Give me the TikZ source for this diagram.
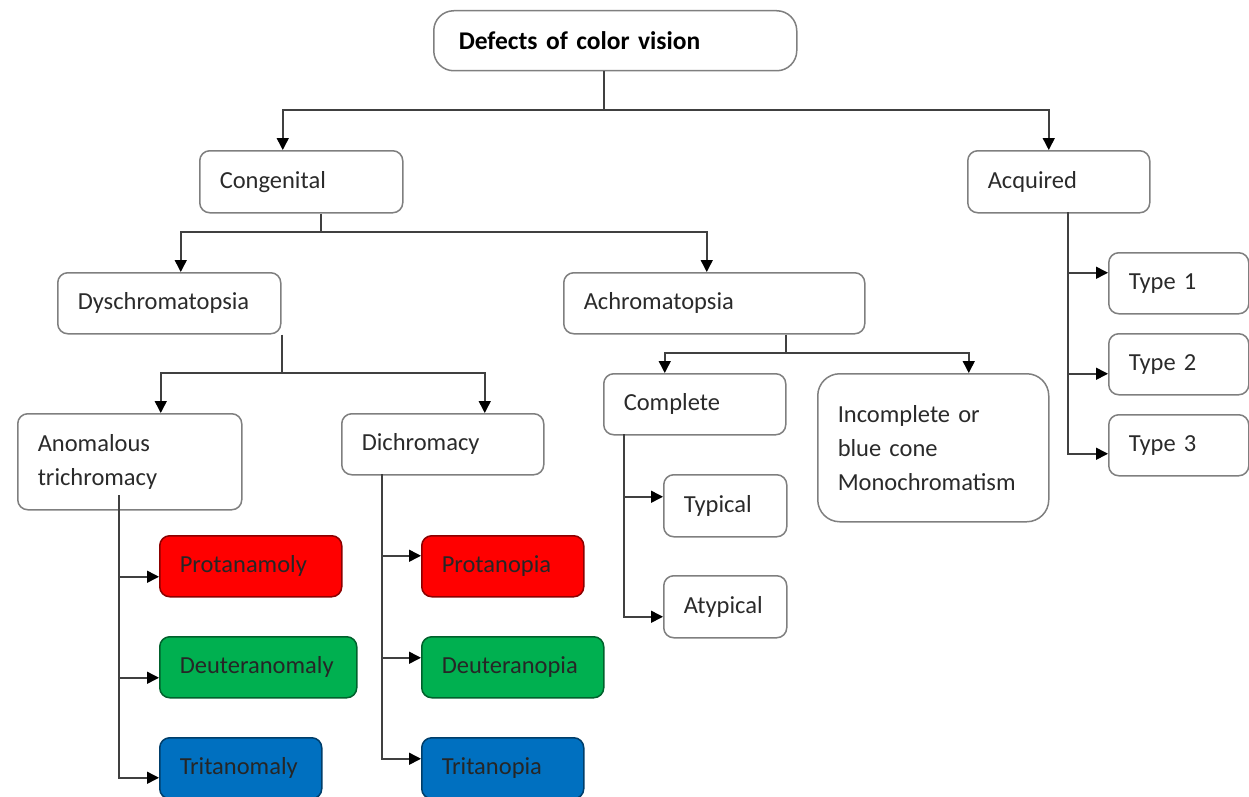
\documentclass[tikz,border=0pt]{standalone}
\usepackage{fontspec}
\setmainfont{Carlito}
\usetikzlibrary{arrows.meta}
\definecolor{boxgray}{HTML}{7F7F7F}
\definecolor{linegray}{HTML}{404040}
\definecolor{txtgray}{HTML}{2A2A2A}
\definecolor{cbred}{HTML}{FF0000}
\definecolor{cbgreen}{HTML}{00B050}
\definecolor{cbblue}{HTML}{0070C0}
\tikzstyle{block} = [rectangle, draw=boxgray, line width=1.5pt, rounded corners=10pt,
    anchor=north west, align=left, inner xsep=20pt, inner ysep=4pt,
    minimum height=61pt, text=txtgray, font=\fontsize{24.5}{34}\selectfont]
\tikzstyle{redblock} = [block, fill=cbred, draw=cbred!55!black, text=black!85]
\tikzstyle{greenblock} = [block, fill=cbgreen, draw=cbgreen!55!black, text=black!85]
\tikzstyle{blueblock} = [block, fill=cbblue, draw=cbblue!55!black, text=black!85]
\tikzstyle{stem} = [draw=linegray, line width=1.5pt]
\tikzstyle{line} = [draw=linegray, line width=1.5pt, -{Triangle[length=12pt,width=12pt,color=black]}]

\begin{document}
\begin{tikzpicture}[x=1pt, y=-1pt]
    \useasboundingbox (0,0) rectangle (1249,797);
    % Place nodes
    \node [block, text width=313pt, inner xsep=25pt, minimum height=60pt, rounded corners=20pt, text=black, font=\fontsize{25.5}{30}\selectfont\bfseries] (root) at (433,10) {Defects of color vision};
    \node [block, text width=163pt, minimum height=62pt] (cong) at (199,150) {Congenital};
    \node [block, text width=142pt, minimum height=62pt] (acq) at (967,150) {Acquired};
    \node [block, text width=183pt] (dys) at (57,272) {Dyschromatopsia};
    \node [block, text width=261pt] (achro) at (563,272) {Achromatopsia};
    \node [block, text width=184pt, minimum height=96pt] (anom) at (17,413) {Anomalous\\trichromacy};
    \node [block, text width=162pt] (dich) at (341,413) {Dichromacy};
    \node [redblock, text width=142pt] (protm) at (159,535) {Protanamoly};
    \node [greenblock, text width=157pt] (deutm) at (159,636) {Deuteranomaly};
    \node [blueblock, text width=122pt] (tritm) at (159,737) {Tritanomaly};
    \node [redblock, text width=122pt] (protp) at (421,535) {Protanopia};
    \node [greenblock, text width=142pt] (deutp) at (421,636) {Deuteranopia};
    \node [blueblock, text width=122pt] (tritp) at (421,737) {Tritanopia};
    \node [block, text width=142pt] (comp) at (603,373) {Complete};
    \node [block, text width=191pt, minimum height=148pt, rounded corners=22pt] (incomp) at (817,373) {Incomplete or\\blue cone\\Monochromatism};
    \node [block, text width=83pt, minimum height=62pt] (typ) at (663,474) {Typical};
    \node [block, text width=83pt, minimum height=62pt] (atyp) at (663,575) {Atypical};
    \node [block, text width=100pt] (type1) at (1108,252) {Type 1};
    \node [block, text width=100pt] (type2) at (1108,333) {Type 2};
    \node [block, text width=100pt] (type3) at (1108,414) {Type 3};

    % Junctions
    \coordinate (rootj) at (604,110);
    \coordinate (congj) at (321,232);
    \coordinate (dysj) at (282,373);
    \coordinate (achroj) at (786,353);
    \coordinate (anomt) at (119,495);
    \coordinate (dicht) at (382,474);
    \coordinate (compt) at (624,434);
    \coordinate (acqt) at (1068,212);

    \path [stem] (root.south -| rootj) -- (rootj);
    \path [line] (rootj) -| ([xshift=-18.5pt]cong.north);
    \path [line] (rootj) -| ([xshift=-10pt]acq.north);
    \path [stem] (cong.south -| congj) -- (congj);
    \path [line] (congj) -| ([xshift=11.5pt]dys.north);
    \path [line] (congj) -| ([xshift=-7.5pt]achro.north);
    \path [stem] (dys.south -| dysj) -- (dysj);
    \path [line] (dysj) -| ([xshift=31pt]anom.north);
    \path [line] (dysj) -| ([xshift=42pt]dich.north);
    \path [stem] (achro.south -| achroj) -- (achroj);
    \path [line] (achroj) -| ([xshift=-30pt]comp.north);
    \path [line] (achroj) -| ([xshift=35.5pt]incomp.north);

    \path [line] (anomt) |- ([yshift=-10.5pt]protm.west);
    \path [line] (anomt) |- ([yshift=-10.5pt]deutm.west);
    \path [line] (anomt) |- ([yshift=-9.5pt]tritm.west);
    \path [line] (dicht) |- ([yshift=10.5pt]protp.west);
    \path [line] (dicht) |- ([yshift=9.5pt]deutp.west);
    \path [line] (dicht) |- ([yshift=9.5pt]tritp.west);
    \path [line] (compt) |- ([yshift=9pt]typ.west);
    \path [line] (compt) |- ([yshift=-10pt]atyp.west);
    \path [line] (acqt) |- ([yshift=10.5pt]type1.west);
    \path [line] (acqt) |- ([yshift=-9.5pt]type2.west);
    \path [line] (acqt) |- ([yshift=-8.5pt]type3.west);
\end{tikzpicture}
\end{document}
